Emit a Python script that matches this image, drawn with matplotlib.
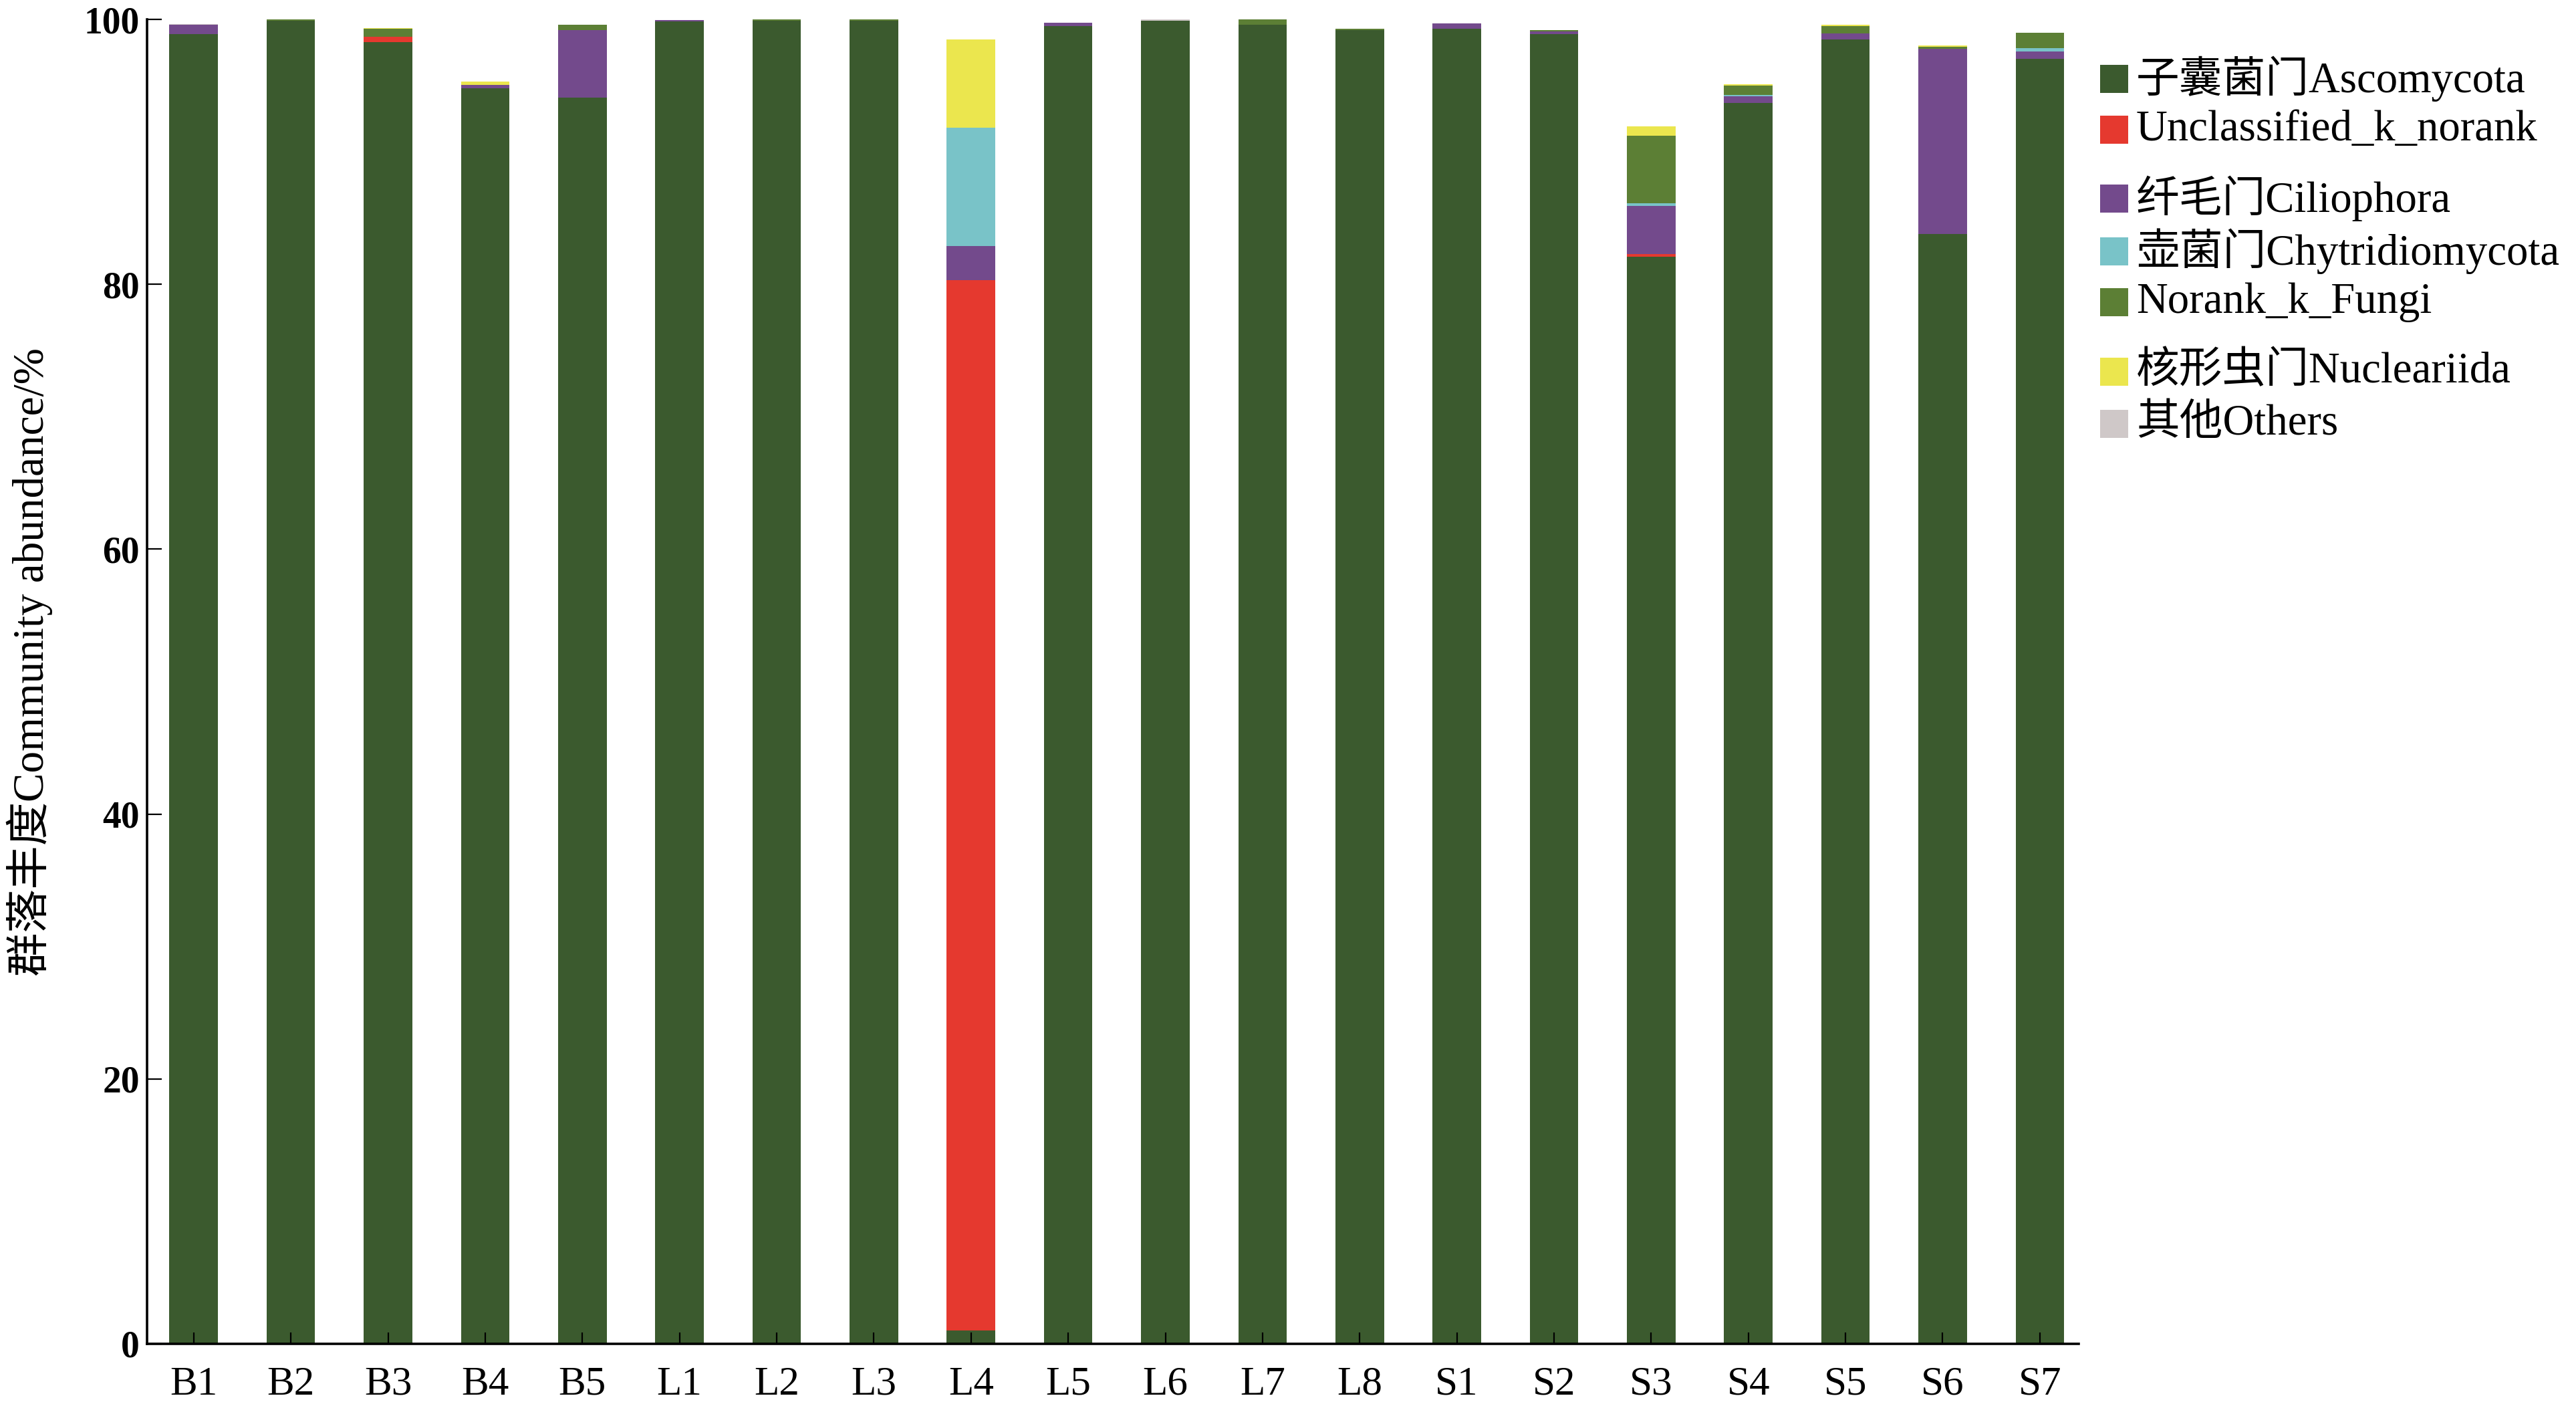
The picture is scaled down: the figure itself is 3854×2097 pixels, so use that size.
import matplotlib
matplotlib.use("Agg")
import matplotlib.pyplot as plt
from matplotlib.patches import Rectangle
import numpy as np

samples = ["B1", "B2", "B3", "B4", "B5", "L1", "L2", "L3", "L4", "L5", "L6", "L7", "L8",
           "S1", "S2", "S3", "S4", "S5", "S6", "S7"]

ascomycota     = [98.9, 99.9, 98.3, 94.8, 94.1, 99.85, 99.9, 99.9, 1.0, 99.5, 99.9, 99.6, 99.2,
                  99.3, 98.9, 82.1, 93.7, 98.5, 83.8, 97.0]
unclassified   = [0, 0, 0.37, 0, 0, 0, 0, 0, 79.3, 0, 0, 0, 0,
                  0, 0, 0.2, 0, 0, 0, 0]
ciliophora     = [0.7, 0, 0, 0.25, 5.1, 0.1, 0, 0, 2.6, 0.25, 0, 0, 0,
                  0.4, 0.2, 3.6, 0.5, 0.45, 14.0, 0.6]
chytridio      = [0, 0, 0, 0, 0, 0, 0, 0, 8.9, 0, 0, 0, 0,
                  0, 0, 0.2, 0.12, 0, 0, 0.25]
norank_fungi   = [0, 0.1, 0.6, 0, 0.4, 0, 0.1, 0.1, 0, 0, 0, 0.4, 0.1,
                  0, 0.1, 5.1, 0.7, 0.55, 0.15, 1.15]
nucleariida    = [0, 0, 0.05, 0.25, 0, 0, 0, 0, 6.7, 0, 0, 0, 0,
                  0, 0, 0.7, 0.1, 0.1, 0.1, 0]
others         = [0.05, 0, 0, 0, 0, 0, 0, 0, 0, 0, 0.1, 0, 0,
                  0, 0, 0, 0, 0, 0, 0]

series_labels = ["子囊菌门Ascomycota", "Unclassified_k_norank", "纤毛门Ciliophora",
                 "壶菌门Chytridiomycota", "Norank_k_Fungi", "核形虫门Nucleariida", "其他Others"]
series_values = [ascomycota, unclassified, ciliophora, chytridio, norank_fungi, nucleariida, others]
colors = ["#3b5a2e", "#e5392f", "#734a8c", "#79c3c8", "#5c7f35", "#ebe64e", "#cfc8c8"]

W, H = 3855, 2097
fig = plt.figure(figsize=(W / 200, H / 200), dpi=200)
ax = fig.add_axes([220 / W, 1 - 2010 / H, (3110 - 220) / W, (2010 - 29) / H])

x = np.arange(len(samples))
bottom = np.zeros(len(samples))
for vals, col in zip(series_values, colors):
    v = np.array(vals, dtype=float)
    ax.bar(x, v, width=0.5, bottom=bottom, color=col, linewidth=0)
    bottom += v

ax.set_xlim(-0.48, 19.4)
ax.set_ylim(0, 100)
ax.set_xticks(x)
ax.set_xticklabels(samples, family="Liberation Serif", fontsize=22)
ax.set_yticks([0, 20, 40, 60, 80, 100])
ax.set_yticklabels(["0", "20", "40", "60", "80", "100"], family="Liberation Serif",
                   fontsize=20, fontweight="bold")
ax.tick_params(axis="x", direction="in", length=6, width=0.8, pad=12, colors="black")
ax.tick_params(axis="y", direction="in", length=8, width=0.8, pad=4)
for s in ["top", "right"]:
    ax.spines[s].set_visible(False)
for s in ["left", "bottom"]:
    ax.spines[s].set_linewidth(1.3)

ax.set_ylabel("群落丰度Community abundance/%", family=["Liberation Serif", "Noto Sans CJK SC"],
              fontsize=23.5)
ax.yaxis.label.set_va("center")
ax.yaxis.set_label_coords((44 - 220) / 2890, 0.515)

# legend
row_y = [118, 194, 297, 376, 452, 556, 634]
sq = 42
for lab, col, yc in zip(series_labels, colors, row_y):
    fig.add_artist(Rectangle((3142 / W, 1 - (yc + sq / 2) / H), sq / W, sq / H,
                             transform=fig.transFigure, facecolor=col, edgecolor="none"))
    fig.text(3196 / W, 1 - yc / H, lab, family=["Liberation Serif", "Noto Sans CJK SC"],
             fontsize=23.3, va="center", ha="left")

fig.savefig("out.png", dpi=200)
